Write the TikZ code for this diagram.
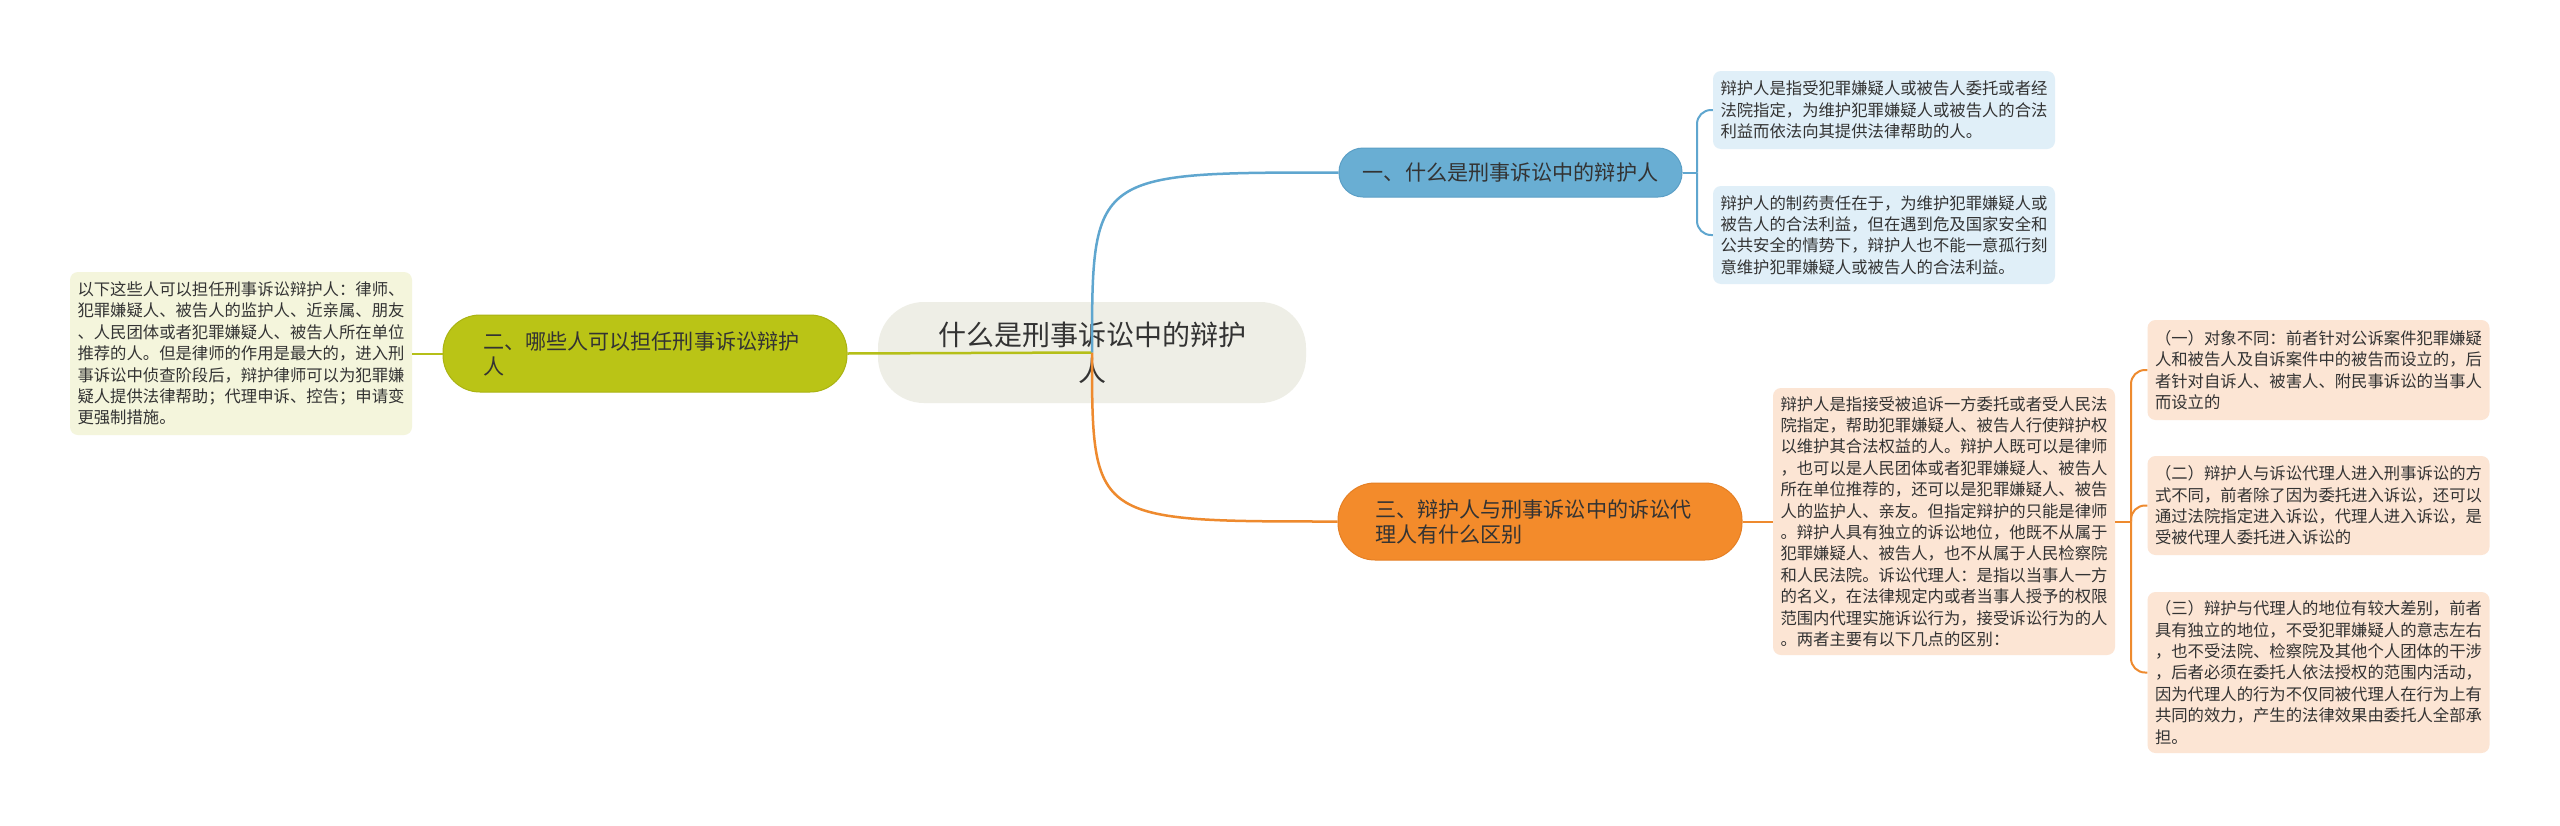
\documentclass[tikz,border=0pt]{standalone}
\usepackage{fontspec}
\setmainfont{Noto Sans CJK SC}
\definecolor{cfill}{HTML}{EEEEE6}
\definecolor{bmain}{HTML}{69AED3}
\definecolor{bline}{HTML}{5FA6CF}
\definecolor{bborder}{HTML}{5B9FC6}
\definecolor{gmain}{HTML}{BAC416}
\definecolor{gline}{HTML}{B5BF18}
\definecolor{gborder}{HTML}{AAB312}
\definecolor{omain}{HTML}{F38B2B}
\definecolor{oline}{HTML}{EE8A2E}
\definecolor{oborder}{HTML}{E57F24}
\definecolor{bleaf}{HTML}{E0EFF8}
\definecolor{gleaf}{HTML}{F4F5DC}
\definecolor{oleaf}{HTML}{FCE5D4}
\definecolor{textc}{HTML}{333333}
\begin{document}
\begin{tikzpicture}[x=1pt,y=-1pt,
  leaf/.style={rectangle, rounded corners=8pt, inner xsep=7.5pt, inner ysep=0pt,
    text width=327pt, align=left, text=textc,
    font=\fontsize{16.35}{21.4}\selectfont},
  blueleaf/.style={leaf, fill=bleaf},
  greenleaf/.style={leaf, fill=gleaf},
  orangeleaf/.style={leaf, fill=oleaf},
  mainnode/.style={rectangle, inner ysep=0pt, text=textc,
    font=\fontsize{21.1}{25}\selectfont},
  conn/.style={line width=2.5pt},
  subconn/.style={line width=2pt, rounded corners=14pt}
]
\useasboundingbox (0,0) rectangle (2560,825);
\fill[white] (0,0) rectangle (2560,825);

% central
\node[rectangle, rounded corners=46pt, fill=cfill, minimum width=428pt, minimum height=101pt,
  inner sep=0pt, align=center, text=textc, font=\fontsize{28}{36}\selectfont]
  (c) at (1092,352.5) {什么是刑事诉讼中的辩护\\人};

% main topics
\node[mainnode, fill=bmain, draw=bborder, line width=1pt, rounded corners=24pt,
  minimum width=343pt, minimum height=49pt, inner xsep=0pt]
  (n1) at (1510.5,172.5) {一、什么是刑事诉讼中的辩护人};
\node[mainnode, fill=gmain, draw=gborder, line width=1pt, rounded corners=37pt,
  minimum height=77pt, inner xsep=40pt, text width=324pt, align=left]
  (n2) at (645,353.5) {二、哪些人可以担任刑事诉讼辩护\\人};
\node[mainnode, fill=omain, draw=oborder, line width=1pt, rounded corners=37pt,
  minimum height=77pt, inner xsep=37pt, text width=330pt, align=left]
  (n3) at (1540,521.5) {三、辩护人与刑事诉讼中的诉讼代\\理人有什么区别};

% leaves
\node[blueleaf, minimum height=78pt] (l1) at (1884,110)
  {辩护人是指受犯罪嫌疑人或被告人委托或者经\\法院指定，为维护犯罪嫌疑人或被告人的合法\\利益而依法向其提供法律帮助的人。};
\node[blueleaf, minimum height=98pt] (l2) at (1884,235)
  {辩护人的制药责任在于，为维护犯罪嫌疑人或\\被告人的合法利益，但在遇到危及国家安全和\\公共安全的情势下，辩护人也不能一意孤行刻\\意维护犯罪嫌疑人或被告人的合法利益。};
\node[greenleaf, minimum height=163pt] (g1) at (241,353.5)
  {以下这些人可以担任刑事诉讼辩护人：律师、\\犯罪嫌疑人、被告人的监护人、近亲属、朋友\\、人民团体或者犯罪嫌疑人、被告人所在单位\\推荐的人。但是律师的作用是最大的，进入刑\\事诉讼中侦查阶段后，辩护律师可以为犯罪嫌\\疑人提供法律帮助；代理申诉、控告；申请变\\更强制措施。};
\node[orangeleaf, minimum height=267pt] (om) at (1944,521.5)
  {辩护人是指接受被追诉一方委托或者受人民法\\院指定，帮助犯罪嫌疑人、被告人行使辩护权\\以维护其合法权益的人。辩护人既可以是律师\\，也可以是人民团体或者犯罪嫌疑人、被告人\\所在单位推荐的，还可以是犯罪嫌疑人、被告\\人的监护人、亲友。但指定辩护的只能是律师\\。辩护人具有独立的诉讼地位，他既不从属于\\犯罪嫌疑人、被告人，也不从属于人民检察院\\和人民法院。诉讼代理人：是指以当事人一方\\的名义，在法律规定内或者当事人授予的权限\\范围内代理实施诉讼行为，接受诉讼行为的人\\。两者主要有以下几点的区别：};
\node[orangeleaf, minimum height=100pt] (s1) at (2318.5,370)
  {（一）对象不同：前者针对公诉案件犯罪嫌疑\\人和被告人及自诉案件中的被告而设立的，后\\者针对自诉人、被害人、附民事诉讼的当事人\\而设立的};
\node[orangeleaf, minimum height=99pt] (s2) at (2318.5,505.5)
  {（二）辩护人与诉讼代理人进入刑事诉讼的方\\式不同，前者除了因为委托进入诉讼，还可以\\通过法院指定进入诉讼，代理人进入诉讼，是\\受被代理人委托进入诉讼的};
\node[orangeleaf, minimum height=161pt] (s3) at (2318.5,672.5)
  {（三）辩护与代理人的地位有较大差别，前者\\具有独立的地位，不受犯罪嫌疑人的意志左右\\，也不受法院、检察院及其他个人团体的干涉\\，后者必须在委托人依法授权的范围内活动，\\因为代理人的行为不仅同被代理人在行为上有\\共同的效力，产生的法律效果由委托人全部承\\担。};

% connectors from central
\draw[conn, draw=gline] (c.center) -- (n2.east);
\draw[conn, draw=bline] (c.center) .. controls (1092,172.5) .. (n1.west);
\draw[conn, draw=oline] (c.center) .. controls (1092,521.5) .. (n3.west);

% sub connectors
\coordinate (b1) at (1697,172.5);
\draw[subconn, draw=bline] (n1.east) -- (b1);
\draw[subconn, draw=bline] (b1) |- (l1.west);
\draw[subconn, draw=bline] (b1) |- (l2.west);

\draw[subconn, draw=gline] (n2.west) -- (g1.east);

\draw[subconn, draw=oline] (n3.east) -- (om.west);
\coordinate (b3) at (2131,521.5);
\draw[subconn, draw=oline] (om.east) -- (b3);
\draw[subconn, draw=oline] (b3) |- (s1.west);
\draw[subconn, draw=oline] (b3) |- (s2.west);
\draw[subconn, draw=oline] (b3) |- (s3.west);
\end{tikzpicture}
\end{document}
